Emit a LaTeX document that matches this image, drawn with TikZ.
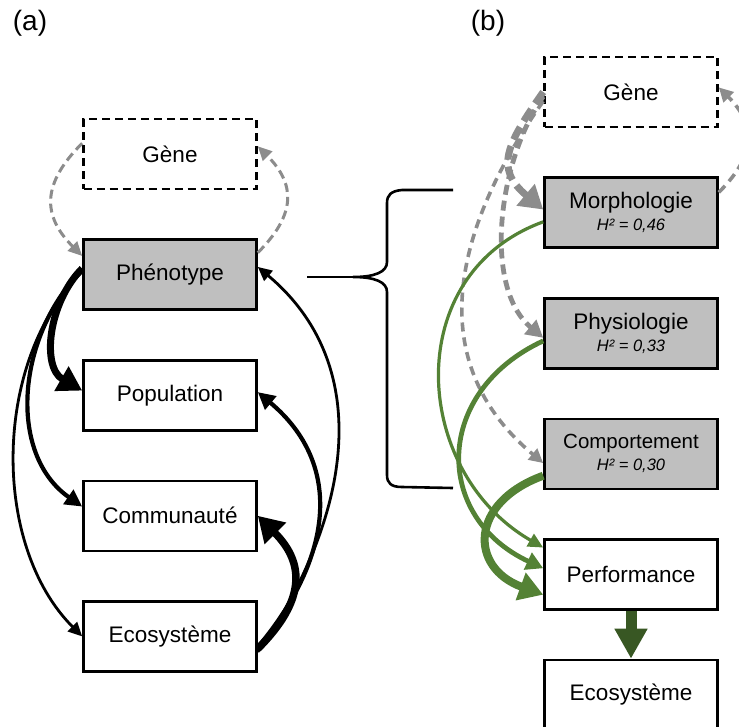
\documentclass[tikz,border=0pt]{standalone}
\usepackage{fontspec}
\setmainfont{Liberation Sans}
\usetikzlibrary{arrows.meta,positioning}
\definecolor{boxgray}{RGB}{191,191,191}
\definecolor{linkgray}{RGB}{140,140,140}
\definecolor{linkgreen}{RGB}{84,130,53}
\definecolor{darkgreen}{RGB}{56,87,35}
\tikzset{
	box/.style={draw, line width=2.6pt, align=center, minimum height=70pt, minimum width=173pt, inner sep=2pt, fill=white, font=\fontsize{22.5}{25}\selectfont},
	trait/.style={box, fill=boxgray},
	genebox/.style={box, dash pattern=on 8pt off 5pt},
	herit/.style={font=\fontsize{16.5}{18}\selectfont\itshape},
	weak/.style={line width=2.8pt, -{Triangle[length=14pt, width=13pt]}},
	mid/.style={line width=4.2pt, -{Triangle[length=17pt, width=17pt]}},
	strong/.style={line width=7pt, -{Triangle[length=24pt, width=27pt]}},
	dflow/.style={draw=linkgray, dash pattern=on 9pt off 5pt},
	gflow/.style={draw=linkgreen}
}

\begin{document}
\begin{tikzpicture}[x=1pt, y=1pt, node distance=48pt]
	\useasboundingbox (0,0) rectangle (739,-726);
	\node[font=\fontsize{28}{32}\selectfont] (lbla) at (30,-23) {(a)};
	\node[font=\fontsize{28}{32}\selectfont] (lblb) at (488,-23) {(b)};

	\node[genebox] (gene) at (170,-154) {Gène};
	\node[trait, below=of gene] (pheno) {Phénotype};
	\node[box, below=of pheno] (pop) {Population};
	\node[box, below=of pop] (comm) {Communauté};
	\node[box, below=of comm] (eco) {Ecosystème};

	\node[genebox] (gene2) at (631,-92) {Gène};
	\node[trait, below=of gene2] (morph) {Morphologie\\[-3pt]{\fontsize{16.5}{18}\selectfont\itshape H² = 0,46}};
	\node[trait, below=of morph] (physio) {Physiologie\\[-3pt]{\fontsize{16.5}{18}\selectfont\itshape H² = 0,33}};
	\node[trait, below=of physio] (comport) {{\fontsize{20.5}{22}\selectfont Comportement}\\[-3pt]{\fontsize{16.5}{18}\selectfont\itshape H² = 0,30}};
	\node[box, below=of comport] (perf) {Performance};
	\node[box, below=of perf] (eco2) {Ecosystème};

	\draw[dflow, weak, line width=3pt] (gene.173) to[out=225, in=135, looseness=1.3] (pheno.168);
	\draw[dflow, weak, line width=3pt] (pheno.14) to[out=45, in=-45, looseness=1.3] (gene.5);
	\draw[strong] (pheno.176) to[out=225, in=150] (pop.177);
	\draw[mid] (pheno.177) to[out=225, in=145] (comm.174);
	\draw[weak] (pheno.178) to[out=225, in=135, looseness=0.9] (eco.180);
	\draw[weak] (eco.-10) to[out=55, in=-40, looseness=1.05] (pheno.5);
	\draw[mid] (eco.-7) to[out=50, in=-40, looseness=1.15] (pop.2);
	\draw[line width=7.5pt, -{Triangle[length=25pt, width=29pt]}] (eco.-8) to[out=45, in=-45, looseness=1.3] (comm.0);

	\draw[line width=2.6pt] (307,-277) -- (353,-277);
	\draw[line width=2.6pt] (453,-190) -- (402,-190) .. controls (391,-191) and (387,-195) .. (387,-203) -- (387,-262)
		.. controls (387,-272) and (375,-277) .. (353,-277) .. controls (375,-277) and (387,-282) .. (387,-292)
		-- (387,-475) .. controls (387,-483) and (391,-487) .. (402,-487) -- (453,-488);

	\draw[dflow, line width=7pt, dash pattern=on 14pt off 7pt, -{Triangle[length=23pt, width=27pt]}] (gene2.180) to[out=235, in=140, looseness=1.4] (morph.178);
	\draw[dflow, line width=4.8pt, dash pattern=on 10pt off 6pt, -{Triangle[length=17pt, width=18pt]}] (gene2.183) to[out=235, in=140, looseness=0.84] (physio.183);
	\draw[dflow, line width=3.6pt, dash pattern=on 9pt off 6pt, -{Triangle[length=14pt, width=14pt]}] (gene2.186) to[out=235, in=140, looseness=1.12] (comport.186);
	\draw[dflow, line width=3.6pt, dash pattern=on 9pt off 6pt, -{Triangle[length=14pt, width=14pt]}] (morph.13) to[out=45, in=-45, looseness=1.3] (gene2.3);

	\draw[gflow, line width=3.2pt, -{Triangle[length=15pt, width=14pt]}] (morph.186) to[out=200, in=150, looseness=1.2] (perf.163);
	\draw[gflow, line width=4.8pt, -{Triangle[length=17pt, width=18pt]}] (physio.185) to[out=205, in=155, looseness=1.37] (perf.176);
	\draw[gflow, line width=8pt, -{Triangle[length=24pt, width=28pt]}] (comport.194) to[out=200, in=160, looseness=1.7] (perf.193);
	\draw[darkgreen, line width=11pt, -{Triangle[length=30pt, width=31pt]}] (perf.south) -- (eco2.north);
\end{tikzpicture}
\end{document}
